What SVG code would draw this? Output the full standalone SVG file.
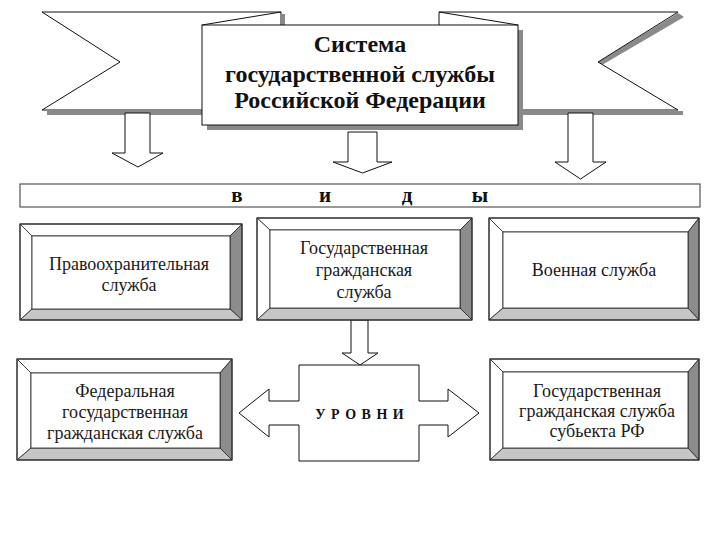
<svg xmlns="http://www.w3.org/2000/svg" width="720" height="540" viewBox="0 0 720 540" font-family="'Liberation Serif', 'DejaVu Serif', serif">
<style>
.ln{fill:#fff;stroke:#111;stroke-width:1}
.sh{fill:#8a8a8a;stroke:none}
.title{font-weight:bold;font-size:24px;fill:#111;text-anchor:middle}
.lbl{font-size:18px;fill:#1a1a1a;text-anchor:middle}
.big{font-weight:bold;font-size:21px;fill:#111;text-anchor:middle}
.bvR{fill:#8c8c8c;stroke:#222;stroke-width:0.8}
.bvB{fill:#c6c6c6;stroke:#222;stroke-width:0.8}
.bvW{fill:#fff;stroke:#222;stroke-width:0.8}
.out{fill:none;stroke:#333;stroke-width:1.2}
</style>
<rect width="720" height="540" fill="#fff"/>

<g id="banner">
  <rect class="sh" x="47" y="111" width="156" height="4"/>
  <rect class="sh" x="518" y="111" width="165" height="4"/>
  <polygon class="sh" points="678,13 684,17 602,65 598,62"/>
  <rect class="sh" x="282" y="14" width="3" height="12"/>
  <polygon class="ln" points="42,12 281,12 281,110 42,110 120,62"/>
  <polygon class="ln" points="439,12 678,12 598,62 678,110 439,110"/>
  <rect class="sh" x="207" y="30" width="316" height="100"/>
  <rect class="ln" x="202" y="25" width="316" height="100"/>
  <line x1="202" y1="25" x2="281" y2="12" stroke="#111"/>
  <line x1="439" y1="12" x2="518" y2="25" stroke="#111"/>
  <text class="title" x="360" y="52">Система</text>
  <text class="title" x="360" y="82">государственной службы</text>
  <text class="title" x="360" y="108">Российской Федерации</text>
</g>

<g id="connectors">
  <polygon class="ln" points="125,113 150,113 150,153 163,153 138,167 112,153 125,153"/>
  <polygon class="ln" points="348,132 377,132 377,162 392,162 362.5,173 333,162 348,162"/>
  <polygon class="ln" points="568,113 593,113 593,162 606,162 580.5,179 555,162 568,162"/>
  <polygon class="ln" points="351,320 368,320 368,353 378,353 360,365 342,353 351,353"/>
</g>

<g id="vidy">
  <rect x="20" y="184" width="680" height="23" fill="#fff" stroke="#555" stroke-width="1.2"/>
  <text class="big" x="237" y="202">в</text>
  <text class="big" x="325" y="202">и</text>
  <text class="big" x="407" y="202">д</text>
  <text class="big" x="480" y="202">ы</text>
</g>

<g id="box-pravo">
  <polygon class="bvW" points="20,224 242,224 230,236 32,236"/>
  <polygon class="bvW" points="20,224 32,236 32,309 20,320"/>
  <polygon class="bvR" points="242,224 242,320 230,309 230,236"/>
  <polygon class="bvB" points="20,320 242,320 230,309 32,309"/>
  <rect x="32" y="236" width="198" height="73" fill="#fff" stroke="#222" stroke-width="0.8"/>
  <rect class="out" x="20" y="224" width="222" height="96"/>
  <text class="lbl" x="129" y="270">Правоохранительная</text>
  <text class="lbl" x="129" y="291">служба</text>
</g>

<g id="box-grazhd">
  <polygon class="bvW" points="257,218 472,218 460,230 270,230"/>
  <polygon class="bvW" points="257,218 270,230 270,308 257,320"/>
  <polygon class="bvR" points="472,218 472,320 460,308 460,230"/>
  <polygon class="bvB" points="257,320 472,320 460,308 270,308"/>
  <rect x="270" y="230" width="190" height="78" fill="#fff" stroke="#222" stroke-width="0.8"/>
  <rect class="out" x="257" y="218" width="215" height="102"/>
  <text class="lbl" x="364" y="254">Государственная</text>
  <text class="lbl" x="364" y="276">гражданская</text>
  <text class="lbl" x="364" y="298">служба</text>
</g>

<g id="box-voen">
  <polygon class="bvW" points="489,218 699,218 688,232 503,232"/>
  <polygon class="bvW" points="489,218 503,232 503,308 489,320"/>
  <polygon class="bvR" points="699,218 699,320 688,308 688,232"/>
  <polygon class="bvB" points="489,320 699,320 688,308 503,308"/>
  <rect x="503" y="232" width="185" height="76" fill="#fff" stroke="#222" stroke-width="0.8"/>
  <rect class="out" x="489" y="218" width="210" height="102"/>
  <text class="lbl" x="594" y="276">Военная служба</text>
</g>

<g id="urovni">
  <polygon class="ln" stroke-width="1.5" points="299,365 419,365 419,401 448,401 448,389 479,413 448,437 448,425 419,425 419,461 299,461 299,425 269,425 269,437 239,413 269,389 269,401 299,401"/>
  <text x="360" y="419" font-weight="bold" font-size="14" fill="#111" text-anchor="middle" letter-spacing="1">У Р О В Н И</text>
</g>

<g id="box-fed">
  <polygon class="bvW" points="17,359 232,359 220,373 31,373"/>
  <polygon class="bvW" points="17,359 31,373 31,448 17,460"/>
  <polygon class="bvR" points="232,359 232,460 220,448 220,373"/>
  <polygon class="bvB" points="17,460 232,460 220,448 31,448"/>
  <rect x="31" y="373" width="189" height="75" fill="#fff" stroke="#222" stroke-width="0.8"/>
  <rect class="out" x="17" y="359" width="215" height="101"/>
  <text class="lbl" x="125" y="397">Федеральная</text>
  <text class="lbl" x="125" y="418">государственная</text>
  <text class="lbl" x="125" y="439">гражданская служба</text>
</g>

<g id="box-subj">
  <polygon class="bvW" points="490,359 699,359 688,372 503,372"/>
  <polygon class="bvW" points="490,359 503,372 503,448 490,460"/>
  <polygon class="bvR" points="699,359 699,460 688,448 688,372"/>
  <polygon class="bvB" points="490,460 699,460 688,448 503,448"/>
  <rect x="503" y="372" width="185" height="76" fill="#fff" stroke="#222" stroke-width="0.8"/>
  <rect class="out" x="490" y="359" width="209" height="101"/>
  <text class="lbl" x="597" y="397">Государственная</text>
  <text class="lbl" x="597" y="417">гражданская служба</text>
  <text class="lbl" x="597" y="437">субьекта РФ</text>
</g>
</svg>
